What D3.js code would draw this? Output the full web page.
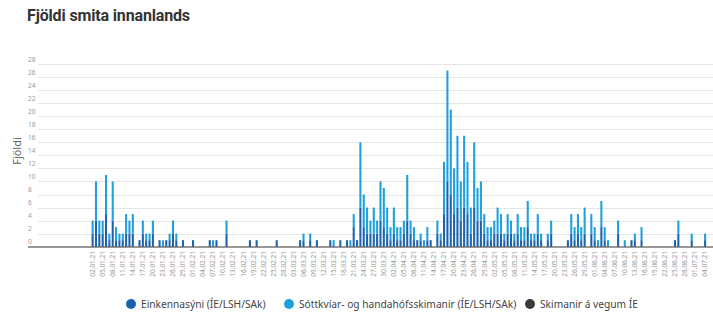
<!DOCTYPE html>
<html>
<head>
<meta charset="utf-8">
<script src="https://cdn.jsdelivr.net/npm/d3@7"></script>
<style>
  html, body { margin: 0; padding: 0; background: #fff; }
  svg { display: block; }
</style>
</head>
<body>
<svg id="chart" width="713" height="321"></svg>
<script>
// ---------- DATA ----------
const startDate = "2021-01-02";
// Daily values (02.01.21 ... 04.07.21)
const einkennasyni = [
  2,4,2,2,5,1,4,1,1,1, 2,2,2,0,1,2,1,1,2,0, 1,0,1,1,2,1,0,1,0,0,
  1,0,0,0,0,1,0,1,0,0, 2,0,0,0,0,0,0,1,0,1, 0,0,0,0,0,1,0,0,0,0,
  0,0,1,1,0,1,0,1,0,0, 0,1,0,0,1,0,1,0,3,1, 6,3,2,2,2,2,4,3,2,1,
  2,1,1,2,4,2,1,1,1,0, 1,1,0,2,1,5,10,8,5,6, 4,6,5,2,6,4,4,2,1,1,
  2,2,2,1,2,2,1,2,1,1, 3,1,1,2,1,0,1,2,0,0, 0,0,1,2,1,2,1,2,0,2,
  1,0,3,1,0,0,0,2,0,0, 0,1,1,0,1,0,0,0,0,0, 0,0,0,0,1,2,0,0,0,1,
  0,0,0,1
];
const sottkviar = [
  2,6,2,2,6,1,6,2,1,1, 3,2,3,0,0,2,1,1,2,0, 0,1,0,1,2,1,0,0,0,0,
  0,0,0,0,0,0,1,0,0,0, 2,0,0,0,0,0,0,0,0,0, 0,0,0,0,0,0,0,0,0,0,
  0,0,0,1,0,1,0,0,0,0, 0,0,1,0,0,0,0,1,2,0, 10,5,4,2,4,2,6,6,4,2,
  4,2,2,2,7,2,2,0,1,1, 2,0,0,2,1,8,17,13,7,11, 6,11,8,4,10,5,6,3,2,2,
  2,4,3,1,3,2,1,3,2,2, 4,1,1,3,1,0,1,2,0,0, 0,0,0,3,2,3,2,4,0,3,
  2,1,4,2,1,0,0,2,0,1, 0,0,1,0,2,0,0,0,0,0, 0,0,0,0,0,2,0,0,0,1,
  0,0,0,1
];
const skimanirIE = new Array(184).fill(0);
const yTicks = [0,2,4,6,8,10,12,14,16,18,20,22,24,26,28];
const seriesNames = ["Einkennasýni (ÍE/LSH/SAk)", "Sóttkvíar- og handahófsskimanir (ÍE/LSH/SAk)", "Skimanir á vegum ÍE"];
const seriesColors = ["#1c63ad", "#1fa0dc", "#3a3a3a"];

// ---------- BUILD ----------
const fmt = d3.timeFormat("%d.%m.%y");
const parse = d3.timeParse("%Y-%m-%d");
const d0 = parse(startDate);
const rows = einkennasyni.map((v, i) => ({
  date: fmt(d3.timeDay.offset(d0, i)),
  a: v, b: sottkviar[i], c: skimanirIE[i]
}));
const keys = ["a", "b", "c"];
const stack = d3.stack().keys(keys)(rows);

const svg = d3.select("#chart");
const font = "'Noto Sans', 'Open Sans', sans-serif";

const x = d3.scaleBand()
  .domain(rows.map(r => r.date))
  .range([91.6, 91.6 + 184 * 3.34])
  .paddingInner(0.38).paddingOuter(0);
const y = d3.scaleLinear().domain([0, 28]).range([246.7, 64]);

// title
svg.append("text").attr("x", 27).attr("y", 21)
  .attr("font-family", "Roboto, 'Noto Sans', sans-serif").attr("font-weight", 700)
  .attr("font-size", 16).attr("fill", "#333").attr("letter-spacing", -0.15)
  .text("Fjöldi smita innanlands");

// grid
svg.append("g").selectAll("line").data(yTicks.slice(1)).join("line")
  .attr("x1", 38).attr("x2", 713)
  .attr("y1", d => Math.round(y(d)) + 0.5).attr("y2", d => Math.round(y(d)) + 0.5)
  .attr("stroke", "#e6e6e6").attr("stroke-width", 1);

// y labels
svg.append("g").selectAll("text").data(yTicks).join("text")
  .attr("x", 28).attr("y", d => y(d) - 2.5)
  .attr("font-family", font).attr("font-size", 6.5).attr("fill", "#999")
  .text(d => d);

// y title
svg.append("text")
  .attr("transform", "translate(21,151) rotate(-90)")
  .attr("text-anchor", "middle")
  .attr("font-family", font).attr("font-size", 11).attr("fill", "#666")
  .text("Fjöldi");

// bars
svg.append("g").selectAll("g").data(stack).join("g")
  .attr("fill", (d, i) => seriesColors[i])
  .selectAll("rect").data(d => d).join("rect")
  .attr("x", d => x(d.data.date))
  .attr("width", x.bandwidth())
  .attr("y", d => y(d[1]))
  .attr("height", d => y(d[0]) - y(d[1]));

// baseline
svg.append("line").attr("x1", 28).attr("x2", 713)
  .attr("y1", 247).attr("y2", 247).attr("stroke", "#333").attr("stroke-width", 1.2);

// x axis labels (every 3rd day)
const xAxis = d3.axisBottom(x)
  .tickValues(rows.filter((r, i) => i % 3 === 0).map(r => r.date))
  .tickSize(0).tickPadding(0);
const gx = svg.append("g").attr("transform", "translate(0,247)").call(xAxis);
gx.select(".domain").remove();
gx.selectAll("text")
  .attr("transform", "rotate(-90)")
  .attr("x", -4).attr("y", 0).attr("dy", "0.35em")
  .attr("text-anchor", "end")
  .attr("font-family", font).attr("font-size", 6.5).attr("fill", "#999");

// legend
const legendX = [131, 289, 530];
const lg = svg.append("g").selectAll("g").data(seriesNames).join("g")
  .attr("transform", (d, i) => `translate(${legendX[i]},304)`);
lg.append("circle").attr("r", 5).attr("fill", (d, i) => seriesColors[i]);
lg.append("text").attr("x", 10).attr("dy", "0.35em")
  .attr("font-family", font).attr("font-size", 10.2).attr("fill", "#444")
  .text(d => d);
</script>
</body>
</html>
